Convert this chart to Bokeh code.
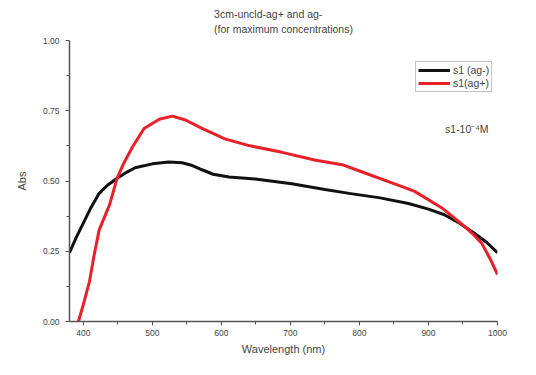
from bokeh.plotting import figure
from bokeh.models import Legend, LegendItem, Label, FixedTicker, NumeralTickFormatter, Range1d
from bokeh.embed import file_html
from bokeh.resources import INLINE

# Data
wl_neg = [380, 390, 400, 410, 423, 435, 449, 462, 475, 500, 524, 543, 558, 572, 588, 611,
          649, 702, 750, 785, 830, 871, 900, 923, 945, 967, 985, 1000]
abs_neg = [0.245, 0.30, 0.35, 0.40, 0.456, 0.485, 0.51, 0.53, 0.547, 0.561, 0.568, 0.565,
           0.555, 0.54, 0.524, 0.514, 0.507, 0.49, 0.47, 0.456, 0.44, 0.42, 0.40, 0.38,
           0.35, 0.313, 0.28, 0.245]

wl_pos = [393, 400, 409, 416, 423, 438, 449, 458, 471, 488, 510, 529, 548, 572, 605, 640,
          688, 735, 775, 813, 851, 880, 919, 948, 965, 977, 990, 1000]
abs_pos = [0.0, 0.06, 0.143, 0.24, 0.326, 0.415, 0.51, 0.56, 0.62, 0.687, 0.72, 0.731,
           0.717, 0.687, 0.65, 0.626, 0.602, 0.575, 0.558, 0.524, 0.49, 0.463, 0.405,
           0.347, 0.31, 0.279, 0.22, 0.167]

x_ticks = [400, 500, 600, 700, 800, 900, 1000]
y_ticks = [0.0, 0.25, 0.5, 0.75, 1.0]

title_text = "3cm-uncld-ag+ and ag-\n(for maximum concentrations)"
series_labels = ["s1 (ag-)", "s1(ag+)"]
note_text = "s1-10\u207b\u2074M"

FONT = "Liberation Sans"
GREY = "#444444"

p = figure(width=528, height=366, output_backend="svg", toolbar_location=None,
           x_range=Range1d(380, 1000), y_range=Range1d(0, 1.0),
           min_border_left=69, min_border_right=31, min_border_top=27, min_border_bottom=45)

p.title.text = title_text
p.title.align = "center"
p.title.text_font = FONT
p.title.text_font_size = "10.5px"
p.title.text_font_style = "normal"
p.title.text_color = GREY
p.title.text_line_height = 1.3

p.outline_line_color = None
p.xgrid.grid_line_color = None
p.ygrid.grid_line_color = None

p.xaxis.ticker = FixedTicker(ticks=x_ticks, minor_ticks=[450, 550, 650, 750, 850, 950])
p.yaxis.ticker = FixedTicker(ticks=y_ticks, minor_ticks=[0.125, 0.375, 0.625, 0.875])
p.yaxis.formatter = NumeralTickFormatter(format="0.00")

for ax in (p.xaxis[0], p.yaxis[0]):
    ax.axis_line_color = "#555555"
    ax.axis_line_width = 1.5
    ax.major_tick_line_color = "#555555"
    ax.minor_tick_line_color = "#555555"
    ax.major_tick_out = 4
    ax.major_tick_in = 0
    ax.minor_tick_out = 3
    ax.minor_tick_in = 0
    ax.major_label_text_font = FONT
    ax.major_label_text_font_size = "8.5px"
    ax.major_label_text_color = GREY
    ax.axis_label_text_font = FONT
    ax.axis_label_text_font_style = "normal"
    ax.axis_label_text_color = GREY

p.yaxis.major_label_standoff = 6
p.xaxis.major_label_standoff = 4
p.xaxis.axis_label = "Wavelength (nm)"
p.xaxis.axis_label_text_font_size = "11px"
p.xaxis.axis_label_standoff = 4
p.yaxis.axis_label = "Abs"
p.yaxis.axis_label_text_font_size = "11px"
p.yaxis.axis_label_standoff = 12

r_neg = p.line(wl_neg, abs_neg, line_color="#111111", line_width=3)
r_pos = p.line(wl_pos, abs_pos, line_color="#e8202a", line_width=3)

legend = Legend(items=[LegendItem(label=series_labels[0], renderers=[r_neg]),
                       LegendItem(label=series_labels[1], renderers=[r_pos])],
                location=(346, 229), orientation="vertical")
legend.label_text_font = FONT
legend.label_text_font_size = "10.5px"
legend.label_text_color = GREY
legend.label_height = 12
legend.label_standoff = 3
legend.glyph_width = 32
legend.glyph_height = 12
legend.spacing = 1
legend.padding = 2
legend.margin = 0
legend.border_line_color = "#888888"
legend.border_line_width = 1
legend.background_fill_alpha = 1.0
p.add_layout(legend)

note = Label(x=924, y=0.685, text=note_text, text_font=FONT, text_font_size="10.5px",
             text_color=GREY, text_baseline="middle")
p.add_layout(note)

open("out.html", "w").write(file_html(p, INLINE))
